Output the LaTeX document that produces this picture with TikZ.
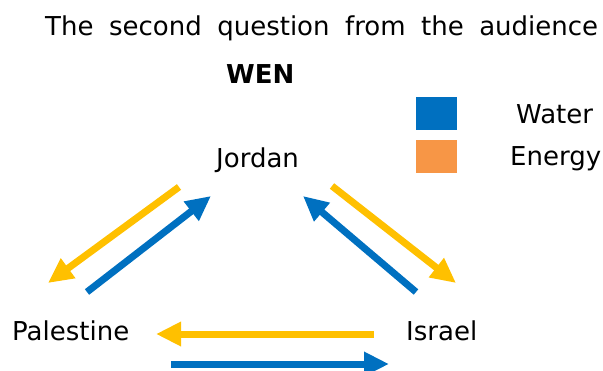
\documentclass[tikz,border=0pt]{standalone}
\usepackage{fontspec}
\setmainfont{DejaVu Sans}
\usetikzlibrary{arrows.meta}
\definecolor{wblue}{HTML}{0070C0}
\definecolor{eyellow}{HTML}{FFC000}
\definecolor{eorange}{HTML}{F79646}
\begin{document}
\begin{tikzpicture}[x=1pt,y=-1pt,
  lbl/.style={anchor=base west,inner sep=0pt,font=\fontsize{26}{31}\selectfont},
  flow/.style={line width=7pt,-{Triangle[length=25pt,width=23pt]}},
  water/.style={flow,draw=wblue,fill=wblue},
  energy/.style={flow,draw=eyellow,fill=eyellow},
  key/.style={draw=none,minimum width=41pt,minimum height=33pt,inner sep=0pt,anchor=north west}]
\useasboundingbox (0,0) rectangle (603,370);
\node[lbl] (title) at (45,35) {\spaceskip=15.5pt The second question from the audience};
\node[lbl,font=\fontsize{26}{31}\selectfont\bfseries] (wen) at (226,83) {WEN};
\node[key,fill=wblue] (kw) at (416,97) {};
\node[key,fill=eorange] (ke) at (416,140) {};
\node[lbl] (lw) at (516,123) {Water};
\node[lbl] (le) at (510,165) {Energy};
\node[lbl] (jordan) at (216,167) {Jordan};
\node[lbl] (palestine) at (12,340) {Palestine};
\node[lbl] (israel) at (406,340) {Israel};
% arrow end points
\coordinate (jpl1) at (179,187);
\coordinate (pjl1) at (48,283);
\coordinate (pjl2) at (87,292);
\coordinate (jpl2) at (211,196);
\coordinate (jir1) at (332,186);
\coordinate (ijr1) at (456,283);
\coordinate (ijr2) at (416,292);
\coordinate (jir2) at (303,196);
\coordinate (ipb1) at (374,334);
\coordinate (pib1) at (156,334);
\coordinate (pib2) at (171,364);
\coordinate (ipb2) at (389,364);
\draw[energy] (jpl1) -- (pjl1);
\draw[water] (pjl2) -- (jpl2);
\draw[energy] (jir1) -- (ijr1);
\draw[water] (ijr2) -- (jir2);
\draw[energy] (ipb1) -- (pib1);
\draw[water] (pib2) -- (ipb2);
\end{tikzpicture}
\end{document}
